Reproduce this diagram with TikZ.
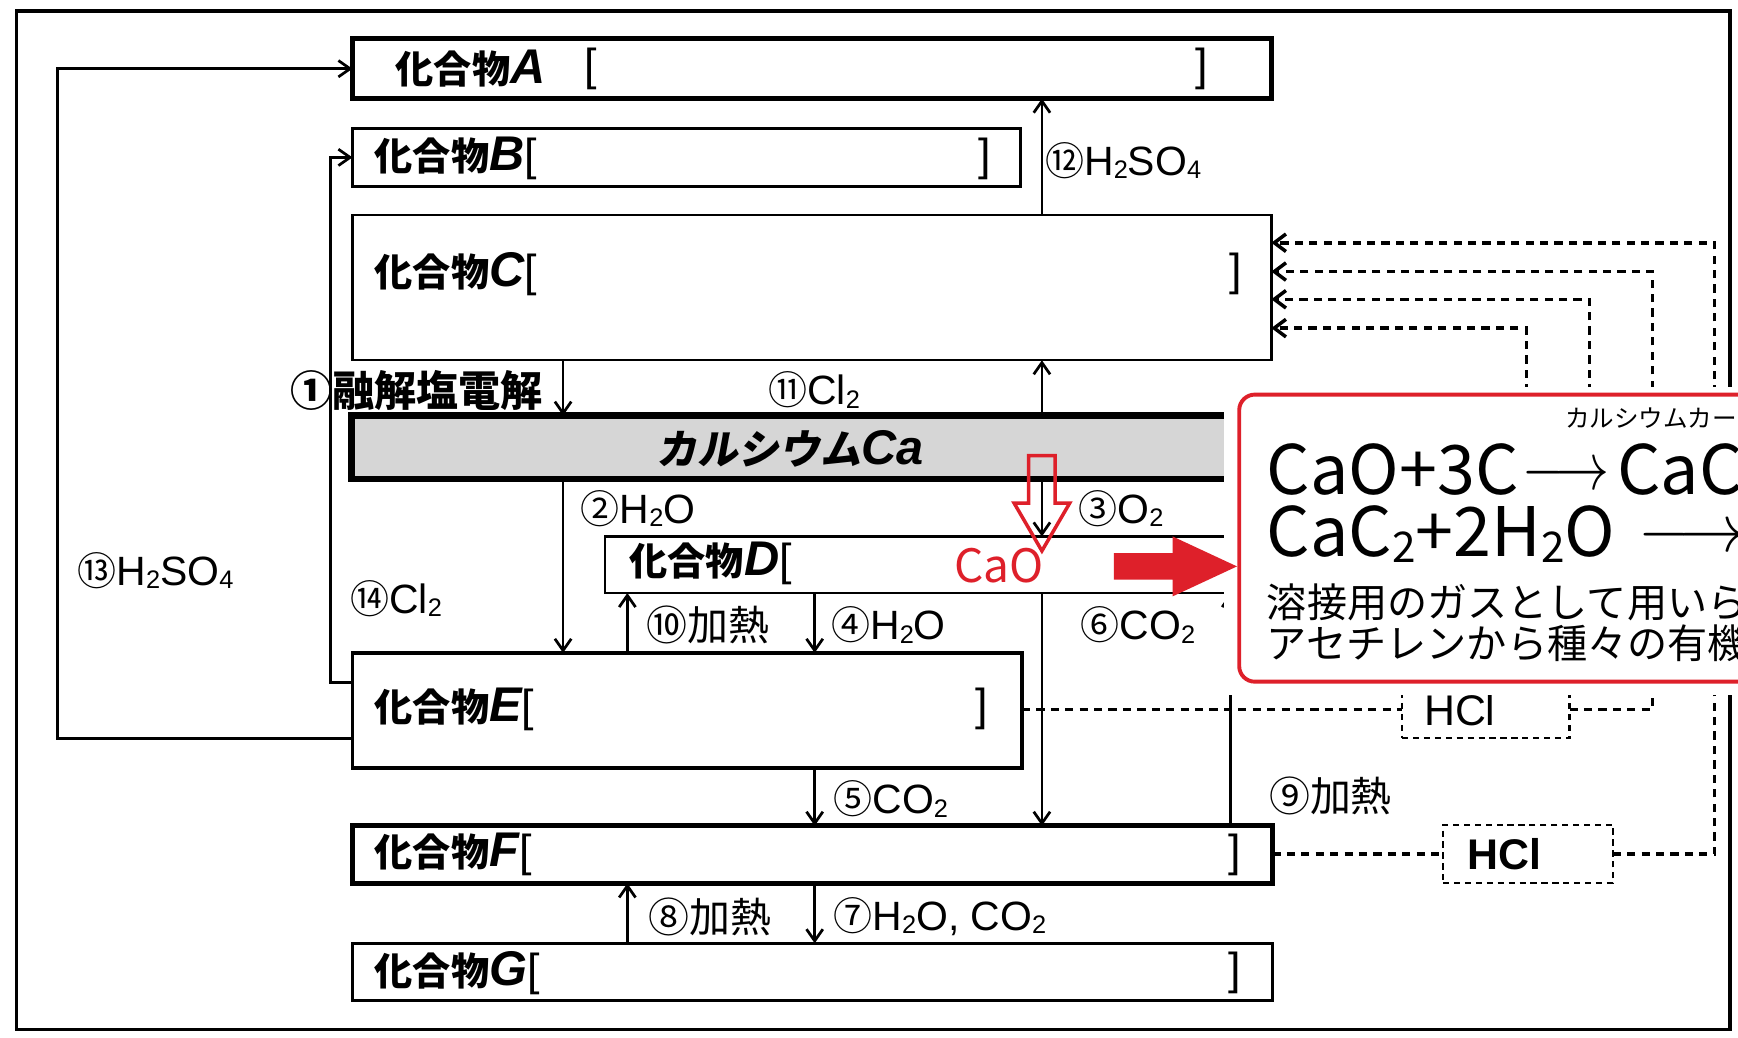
\documentclass[tikz,border=0pt]{standalone}
\usepackage{fontspec}
\setmainfont{Liberation Sans}
\newfontfamily\jp{Noto Sans CJK JP}
\newfontfamily\jpsl{Noto Sans CJK JP}[FakeSlant=0.18]
\usetikzlibrary{arrows.meta,fit,calc}
\definecolor{rd}{RGB}{222,32,42}
\definecolor{cagray}{RGB}{214,214,214}
\newcommand\cpd[1]{{\jp\bfseries\fontsize{9.8}{10}\selectfont 化合物}{\fontsize{12.5}{12}\selectfont\bfseries\itshape #1}}
\newcommand\brk[1]{{\fontsize{11.5}{12}\selectfont #1}}
\newcommand\cn[1]{{\jp\fontsize{10}{10}\selectfont #1}}
\newcommand\sbx[1]{\raisebox{-0.08em}{\scalebox{0.62}{#1}}}
\begin{document}
\begin{tikzpicture}[x=0.01cm,y=-0.01cm,
  every node/.style={inner sep=0pt,outer sep=0pt},
  box/.style={draw,line width=#1,inner sep=0pt},
  box/.default=0.7pt,
  arr/.style={line width=0.7pt,-{Straight Barb[length=3pt,width=4.2pt]}},
  dl/.style={line width=0.9pt,dash pattern=on 2.1pt off 1.6pt,-{Straight Barb[length=3pt,width=4.5pt]}},
  dlt/.style={line width=0.9pt,dash pattern=on 2.1pt off 1.6pt},
  hbox/.style={draw,line width=0.55pt,dash pattern=on 1.6pt off 1.2pt,inner sep=0pt},
  lab/.style={anchor=west,font=\fontsize{10.5}{11}\selectfont},
  nm/.style={anchor=west}]
\useasboundingbox (0,0) rectangle (1568,936);
\clip (0,0) rectangle (1568,936);
\fill[white] (0,0) rectangle (1568,936);
% outer frame
\draw[line width=0.9pt] (15,10) rectangle (1561,929);
% column / row coordinates
\coordinate (x13) at (52,0);
\coordinate (x14) at (298,0);
\coordinate (xa) at (508,0);
\coordinate (xb) at (566,0);
\coordinate (xc) at (735,0);
\coordinate (xd) at (940,0);
\coordinate (xe) at (1110,0);
\coordinate (y13) at (0,666);
\coordinate (y14) at (0,616);
\coordinate (v1) at (1547,219);
\coordinate (v2) at (1491,245);
\coordinate (v3) at (1434,270);
\coordinate (v4) at (1377,296);
\coordinate (s3) at (1434,380);
\coordinate (s4) at (1377,380);
% boxes
\node[box=1.2pt,fit={(318,35)(1147,89)}] (A) {};
\node[box=0.8pt,fit={(318,116)(921,168)}] (B) {};
\node[box=0.6pt,fit={(318,194)(1147,325)}] (C) {};
\node[box=1.7pt,fill=cagray,fit={(317,375)(1250,432)}] (Ca) {};
\node[box=0.6pt,fit={(546,484)(1250,535)}] (D) {};
\node[box=0.9pt,fit={(318,589)(922,693)}] (E) {};
\node[box=1.3pt,fit={(318,745)(1148,797)}] (F) {};
\node[box=0.8pt,fit={(318,851)(1148,903)}] (G) {};
\node[hbox,fit={(1265,614)(1416,666)}] (HClu) {};
\node[hbox,fit={(1302,744)(1455,797)}] (HCll) {};
% box texts
\node[nm] (tA) at (357,62) {\cpd{A}};
\node (bA1) at (533,62) {\brk{[}};
\node (bA2) at (1084,62) {\brk{]}};
\node[nm] (tB) at (338,143) {\cpd{B}\brk{[}};
\node (bB) at (888,143) {\brk{]}};
\node[nm] (tC) at (338,247) {\cpd{C}\brk{[}};
\node (bC) at (1115,247) {\brk{]}};
\node (tCa) at (713,405) {{\jpsl\bfseries\fontsize{10.5}{11}\selectfont カルシウム}{\fontsize{12.5}{12}\selectfont\bfseries\itshape Ca}};
\node[nm] (tD) at (568,508) {\cpd{D}\brk{[}};
\node[text=rd] (cao) at (901,510) {\jp\fontsize{11.8}{12}\selectfont CaO};
\node[nm] (tE) at (338,640) {\cpd{E}\brk{[}};
\node (bE) at (886,640) {\brk{]}};
\node[nm] (tF) at (338,771) {\cpd{F}\brk{[}};
\node (bF) at (1114,771) {\brk{]}};
\node[nm] (tG) at (338,878) {\cpd{G}\brk{[}};
\node (bG) at (1114,878) {\brk{]}};
\node (hu) at (1317,641) {\fontsize{11}{11}\selectfont HCl};
\node (hl) at (1357,771) {\fontsize{11}{11}\selectfont\bfseries HCl};
% solid connectors
\draw[arr] (E.west |- y13) -| (x13 |- A.west) -- (A.west);
\draw[arr] (E.west |- y14) -| (x14 |- B.west) -- (B.west);
\draw[arr] (C.south -| xa) -- (Ca.north -| xa);
\draw[arr] (Ca.south -| xa) -- (E.north -| xa);
\draw[arr] (E.north -| xb) -- (D.south -| xb);
\draw[arr] (D.south -| xc) -- (E.north -| xc);
\draw[arr] (E.south -| xc) -- (F.north -| xc);
\draw[arr] (F.south -| xc) -- (G.north -| xc);
\draw[arr] (G.north -| xb) -- (F.south -| xb);
\draw[arr] (C.north -| xd) -- (A.south -| xd);
\draw[arr] (Ca.north -| xd) -- (C.south -| xd);
\draw[arr] (Ca.south -| xd) -- (D.north -| xd);
\draw[arr] (D.south -| xd) -- (F.north -| xd);
\draw[arr] (F.north -| xe) -- (D.south -| xe);
% dashed connectors
\draw[dlt] (E.east |- HClu.west) -- (HClu.west);
\draw[dlt] (F.east |- HCll.west) -- (HCll.west);
\draw[dl] (HCll.east) -| (v1) -- (C.east |- v1);
\draw[dl] (HClu.east) -| (v2) -- (C.east |- v2);
\draw[dl] (s3) -- (v3) -- (C.east |- v3);
\draw[dl] (s4) -- (v4) -- (C.east |- v4);
% labels
\node[lab,font={\jp\bfseries\fontsize{10.8}{11}\selectfont}] (l1) at (262,352) {①融解塩電解};
\node[lab] (l11) at (693,352) {\cn{⑪}Cl\sbx{2}};
\node[lab] (l12) at (943,145) {\cn{⑫}H\sbx{2}SO\sbx{4}};
\node[lab] (l2) at (524,459) {\cn{②}H\sbx{2}O};
\node[lab] (l3) at (973,459) {\cn{③}O\sbx{2}};
\node[lab] (l13) at (70,515) {\cn{⑬}H\sbx{2}SO\sbx{4}};
\node[lab] (l14) at (316,540) {\cn{⑭}Cl\sbx{2}};
\node[lab,font={\jp\fontsize{10.5}{11}\selectfont}] (l10) at (583,564) {⑩加熱};
\node[lab] (l4) at (750,564) {\cn{④}H\sbx{2}O};
\node[lab] (l6) at (975,564) {\cn{⑥}CO\sbx{2}};
\node[lab] (l5) at (752,721) {\cn{⑤}CO\sbx{2}};
\node[lab,font={\jp\fontsize{10.5}{11}\selectfont}] (l9) at (1145,718) {⑨加熱};
\node[lab,font={\jp\fontsize{10.5}{11}\selectfont}] (l8) at (585,827) {⑧加熱};
\node[lab] (l7) at (752,827) {\cn{⑦}H\sbx{2}O, CO\sbx{2}};
% sticker
\fill[white] (1104,349) rectangle (1600,627);
\node[draw=rd,line width=1pt,rounded corners=4pt,fill=white,fit={(1118,356)(1640,615)}] (R) {};
\node[anchor=west] (r0) at (1412,377) {\jp\fontsize{6.3}{7}\selectfont カルシウムカー};
\node[anchor=west] (r1) at (1143,424) {\jp\fontsize{17.5}{18}\selectfont CaO+3C\hspace{1pt}\raisebox{0.08em}{\scalebox{0.8}[1]{$\longrightarrow$}}\hspace{2pt}CaC};
\node[anchor=west] (r2) at (1143,482) {\jp\fontsize{17.5}{18}\selectfont CaC\sbx{2}+2H\sbx{2}O\hspace{6pt}\raisebox{0.08em}{$\longrightarrow$}};
\node[anchor=west] (r3) at (1143,543) {\jp\fontsize{10.3}{11}\selectfont 溶接用のガスとして用いら};
\node[anchor=west] (r4) at (1143,580) {\jp\fontsize{10.3}{11}\selectfont アセチレンから種々の有機};
% red arrows
\fill[rd] (1005,499) -- (1058,499) -- (1058,484) -- (1116,511) -- (1058,538) -- (1058,523) -- (1005,523) -- cycle;
\draw[rd,line width=0.9pt,line join=miter] (928,411) -- (952,411) -- (952,454) -- (965,454) -- (940,497) -- (915,454) -- (928,454) -- cycle;
\end{tikzpicture}
\end{document}
